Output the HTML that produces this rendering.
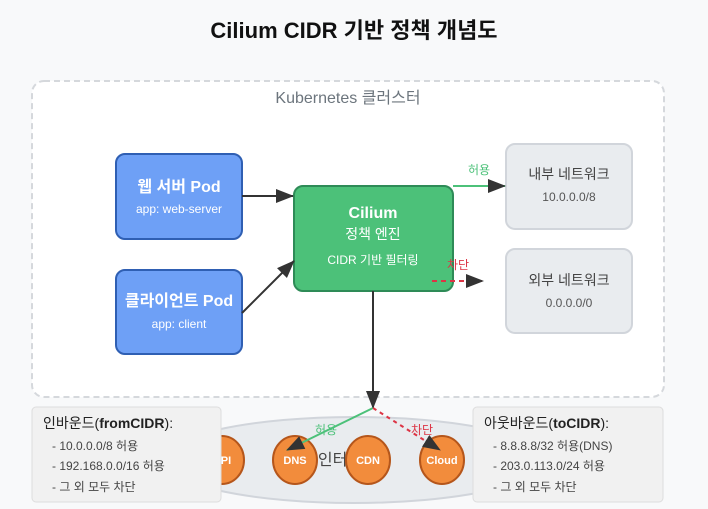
<!DOCTYPE html>
<html><head><meta charset="utf-8"><style>
html,body{margin:0;padding:0;background:#f8f9fa;}
svg{display:block;font-family:"Liberation Sans","Noto Sans CJK KR",sans-serif;}
</style></head><body>
<svg width="708" height="509" viewBox="0 0 708 509" xmlns="http://www.w3.org/2000/svg">
<defs>
<marker id="ak" markerWidth="10" markerHeight="8" refX="9" refY="4" orient="auto" markerUnits="userSpaceOnUse" viewBox="0 0 10 8"><path d="M0,0 L10,4 L0,8 z" fill="#333"/></marker>
<marker id="ak2" markerWidth="18" markerHeight="14" refX="17" refY="7" orient="auto" markerUnits="userSpaceOnUse" viewBox="0 0 18 14"><path d="M0,0 L18,7 L0,14 z" fill="#333"/></marker>
</defs>
<rect width="708" height="509" fill="#f8f9fa"/>
<text x="354" y="38" text-anchor="middle" font-size="22" font-weight="bold" fill="#111">Cilium CIDR 기반 정책 개념도</text>
<rect x="32" y="81" width="632" height="316" rx="12" fill="#fff" stroke="#d5d8dc" stroke-width="2" stroke-dasharray="6,4"/>
<text x="348" y="103" text-anchor="middle" font-size="16" fill="#6c757d">Kubernetes 클러스터</text>

<rect x="116" y="154" width="126" height="85" rx="9" fill="#6ea0f6" stroke="#2f5fb3" stroke-width="2"/>
<text x="179" y="192" text-anchor="middle" font-size="16" font-weight="bold" fill="#fff">웹 서버 Pod</text>
<text x="179" y="213" text-anchor="middle" font-size="12" fill="#fff">app: web-server</text>
<rect x="116" y="270" width="126" height="84" rx="9" fill="#6ea0f6" stroke="#2f5fb3" stroke-width="2"/>
<text x="179" y="306" text-anchor="middle" font-size="16" font-weight="bold" fill="#fff">클라이언트 Pod</text>
<text x="179" y="328" text-anchor="middle" font-size="12" fill="#fff">app: client</text>

<rect x="294" y="186" width="159" height="105" rx="9" fill="#4cc179" stroke="#2e8b57" stroke-width="2"/>
<text x="373" y="218" text-anchor="middle" font-size="16" font-weight="bold" fill="#fff">Cilium</text>
<text x="373" y="239" text-anchor="middle" font-size="14" fill="#fff">정책 엔진</text>
<text x="373" y="264" text-anchor="middle" font-size="12" fill="#fff">CIDR 기반 필터링</text>

<rect x="506" y="144" width="126" height="85" rx="9" fill="#e9ecef" stroke="#d1d5db" stroke-width="2"/>
<text x="569" y="179" text-anchor="middle" font-size="14" fill="#444">내부 네트워크</text>
<text x="569" y="201" text-anchor="middle" font-size="12" fill="#555">10.0.0.0/8</text>
<rect x="506" y="249" width="126" height="84" rx="9" fill="#e9ecef" stroke="#d1d5db" stroke-width="2"/>
<text x="569" y="285" text-anchor="middle" font-size="14" fill="#444">외부 네트워크</text>
<text x="569" y="307" text-anchor="middle" font-size="12" fill="#555">0.0.0.0/0</text>

<line x1="242" y1="196" x2="293" y2="196" stroke="#333" stroke-width="2" marker-end="url(#ak2)"/>
<line x1="242" y1="313" x2="294" y2="261" stroke="#333" stroke-width="2" marker-end="url(#ak2)"/>
<line x1="453" y1="186" x2="505" y2="186" stroke="#4cc179" stroke-width="2" marker-end="url(#ak2)"/>
<text x="479" y="174" text-anchor="middle" font-size="12" fill="#4cc179">허용</text>
<line x1="432" y1="281" x2="483" y2="281" stroke="#dc3545" stroke-width="2" stroke-dasharray="5,4" marker-end="url(#ak2)"/>
<text x="458" y="269" text-anchor="middle" font-size="12" fill="#dc3545">차단</text>
<line x1="373" y1="291" x2="373" y2="408" stroke="#333" stroke-width="2" marker-end="url(#ak2)"/>

<ellipse cx="354" cy="460" rx="192" ry="43" fill="#e9ecef" stroke="#d1d5db" stroke-width="2"/>
<text x="340" y="465" text-anchor="middle" font-size="16" fill="#444">인터넷</text>
<g font-size="11" font-weight="bold" fill="#fff" text-anchor="middle" stroke-width="2">
<ellipse cx="222" cy="460" rx="22" ry="24" fill="#f28c3c" stroke="#b5561b"/><text x="222" y="464" fill="#fff">API</text>
<ellipse cx="295" cy="460" rx="22" ry="24" fill="#f28c3c" stroke="#b5561b"/><text x="295" y="464" fill="#fff">DNS</text>
<ellipse cx="368" cy="460" rx="22" ry="24" fill="#f28c3c" stroke="#b5561b"/><text x="368" y="464" fill="#fff">CDN</text>
<ellipse cx="442" cy="460" rx="22" ry="24" fill="#f28c3c" stroke="#b5561b"/><text x="442" y="464" fill="#fff">Cloud</text>
</g>
<line x1="373" y1="408" x2="287" y2="450" stroke="#4cc179" stroke-width="2" marker-end="url(#ak2)"/>
<text x="326" y="434" text-anchor="middle" font-size="12" fill="#4cc179">허용</text>
<line x1="373" y1="408" x2="440" y2="450" stroke="#dc3545" stroke-width="2" stroke-dasharray="4,4" marker-end="url(#ak2)"/>
<text x="422" y="434" text-anchor="middle" font-size="12" fill="#dc3545">차단</text>

<rect x="32" y="407" width="189" height="95" rx="4" fill="#f1f1f1" stroke="#ddd"/>
<text x="43" y="428" font-size="14" fill="#222">인바운드(<tspan font-weight="bold">fromCIDR</tspan>):</text>
<text x="52" y="450" font-size="12" fill="#444">- 10.0.0.0/8 허용</text>
<text x="52" y="470" font-size="12" fill="#444">- 192.168.0.0/16 허용</text>
<text x="52" y="491" font-size="12" fill="#444">- 그 외 모두 차단</text>
<rect x="473" y="407" width="190" height="95" rx="4" fill="#f1f1f1" stroke="#ddd"/>
<text x="484" y="428" font-size="14" fill="#222">아웃바운드(<tspan font-weight="bold">toCIDR</tspan>):</text>
<text x="493" y="450" font-size="12" fill="#444">- 8.8.8.8/32 허용(DNS)</text>
<text x="493" y="470" font-size="12" fill="#444">- 203.0.113.0/24 허용</text>
<text x="493" y="491" font-size="12" fill="#444">- 그 외 모두 차단</text>
</svg>
</body></html>
